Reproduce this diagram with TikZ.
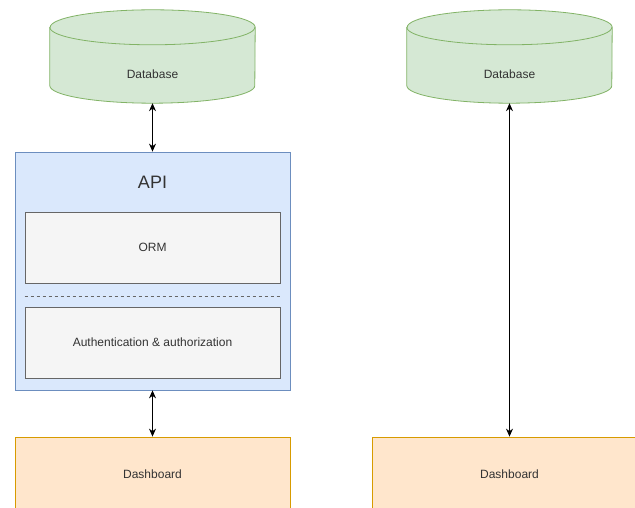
\documentclass[tikz,border=0pt]{standalone}
\usepackage{fontspec}
\setmainfont{Liberation Sans}
\usepackage{tikz}
\usetikzlibrary{arrows.meta,backgrounds}

\definecolor{dbfill}{HTML}{D5E8D4}
\definecolor{dbline}{HTML}{82B366}
\definecolor{apifill}{HTML}{DAE8FC}
\definecolor{apiline}{HTML}{6C8EBF}
\definecolor{boxfill}{HTML}{F5F5F5}
\definecolor{boxline}{HTML}{666666}
\definecolor{dashfill}{HTML}{FFE6CC}
\definecolor{dashline}{HTML}{D79B00}
\definecolor{txt}{HTML}{333333}

\tikzset{
  dbnode/.style={minimum width=205pt, minimum height=58pt, inner sep=0pt},
  dbshape/.style={fill=dbfill, draw=dbline, line width=0.8pt},
  apibox/.style={draw=apiline, fill=apifill, line width=0.8pt,
    minimum width=275pt, minimum height=238pt},
  layer/.style={draw=boxline, fill=boxfill, line width=0.8pt,
    minimum width=255pt, minimum height=71pt},
  dashbox/.style={draw=dashline, fill=dashfill, line width=0.8pt,
    minimum width=275pt, minimum height=74pt},
  link/.style={<->, line width=0.8pt, >={Stealth[length=8pt,width=7pt]}}
}

% cylinder round a database node
\newcommand{\dbcyl}[1]{%
  \path[dbshape] ([yshift=17.5pt]#1.north west) -- ([yshift=17.5pt]#1.south west)
    arc[start angle=180, end angle=360, x radius=102.5pt, y radius=17.5pt]
    -- ([yshift=17.5pt]#1.north east)
    arc[start angle=0, end angle=180, x radius=102.5pt, y radius=17.5pt] -- cycle;
  \draw[dbline, line width=0.8pt] ([yshift=17.5pt]#1.north west)
    arc[start angle=180, end angle=360, x radius=102.5pt, y radius=17.5pt];}

\begin{document}
\begin{tikzpicture}[x=1pt, y=1pt, font=\fontsize{12}{14}\selectfont, text=txt]
\clip (0,0) rectangle (635,508);

% Left: database - API - dashboard
\node (db1) [dbnode] at (152.5,434) {Database};
\node (db2) [dbnode] at (509.5,434) {Database};
\begin{scope}[on background layer]
\fill[white] (0,0) rectangle (635,508);
\dbcyl{db1}
\dbcyl{db2}
\end{scope}

\node (api) [apibox] at (152.5,237) {};
\node (apititle) [font=\fontsize{18}{20}\selectfont] at ([yshift=-31pt]api.north) {API};
\node (orm) [layer] at (152.5,260.5) {ORM};
\node (auth) [layer] at (152.5,165.5) {Authentication \& authorization};
\draw[boxline, dashed, line width=0.8pt] (orm.south west |- 0,212) -- (orm.south east |- 0,212);

\node (dash1) [dashbox] at (152.5,34) {Dashboard};

\draw[link] (db1.south) -- (api.north);
\draw[link] (api.south) -- (dash1.north);

% Right: database - dashboard
\node (dash2) [dashbox] at (509.5,34) {Dashboard};

\draw[link] (db2.south) -- (dash2.north);
\end{tikzpicture}
\end{document}
